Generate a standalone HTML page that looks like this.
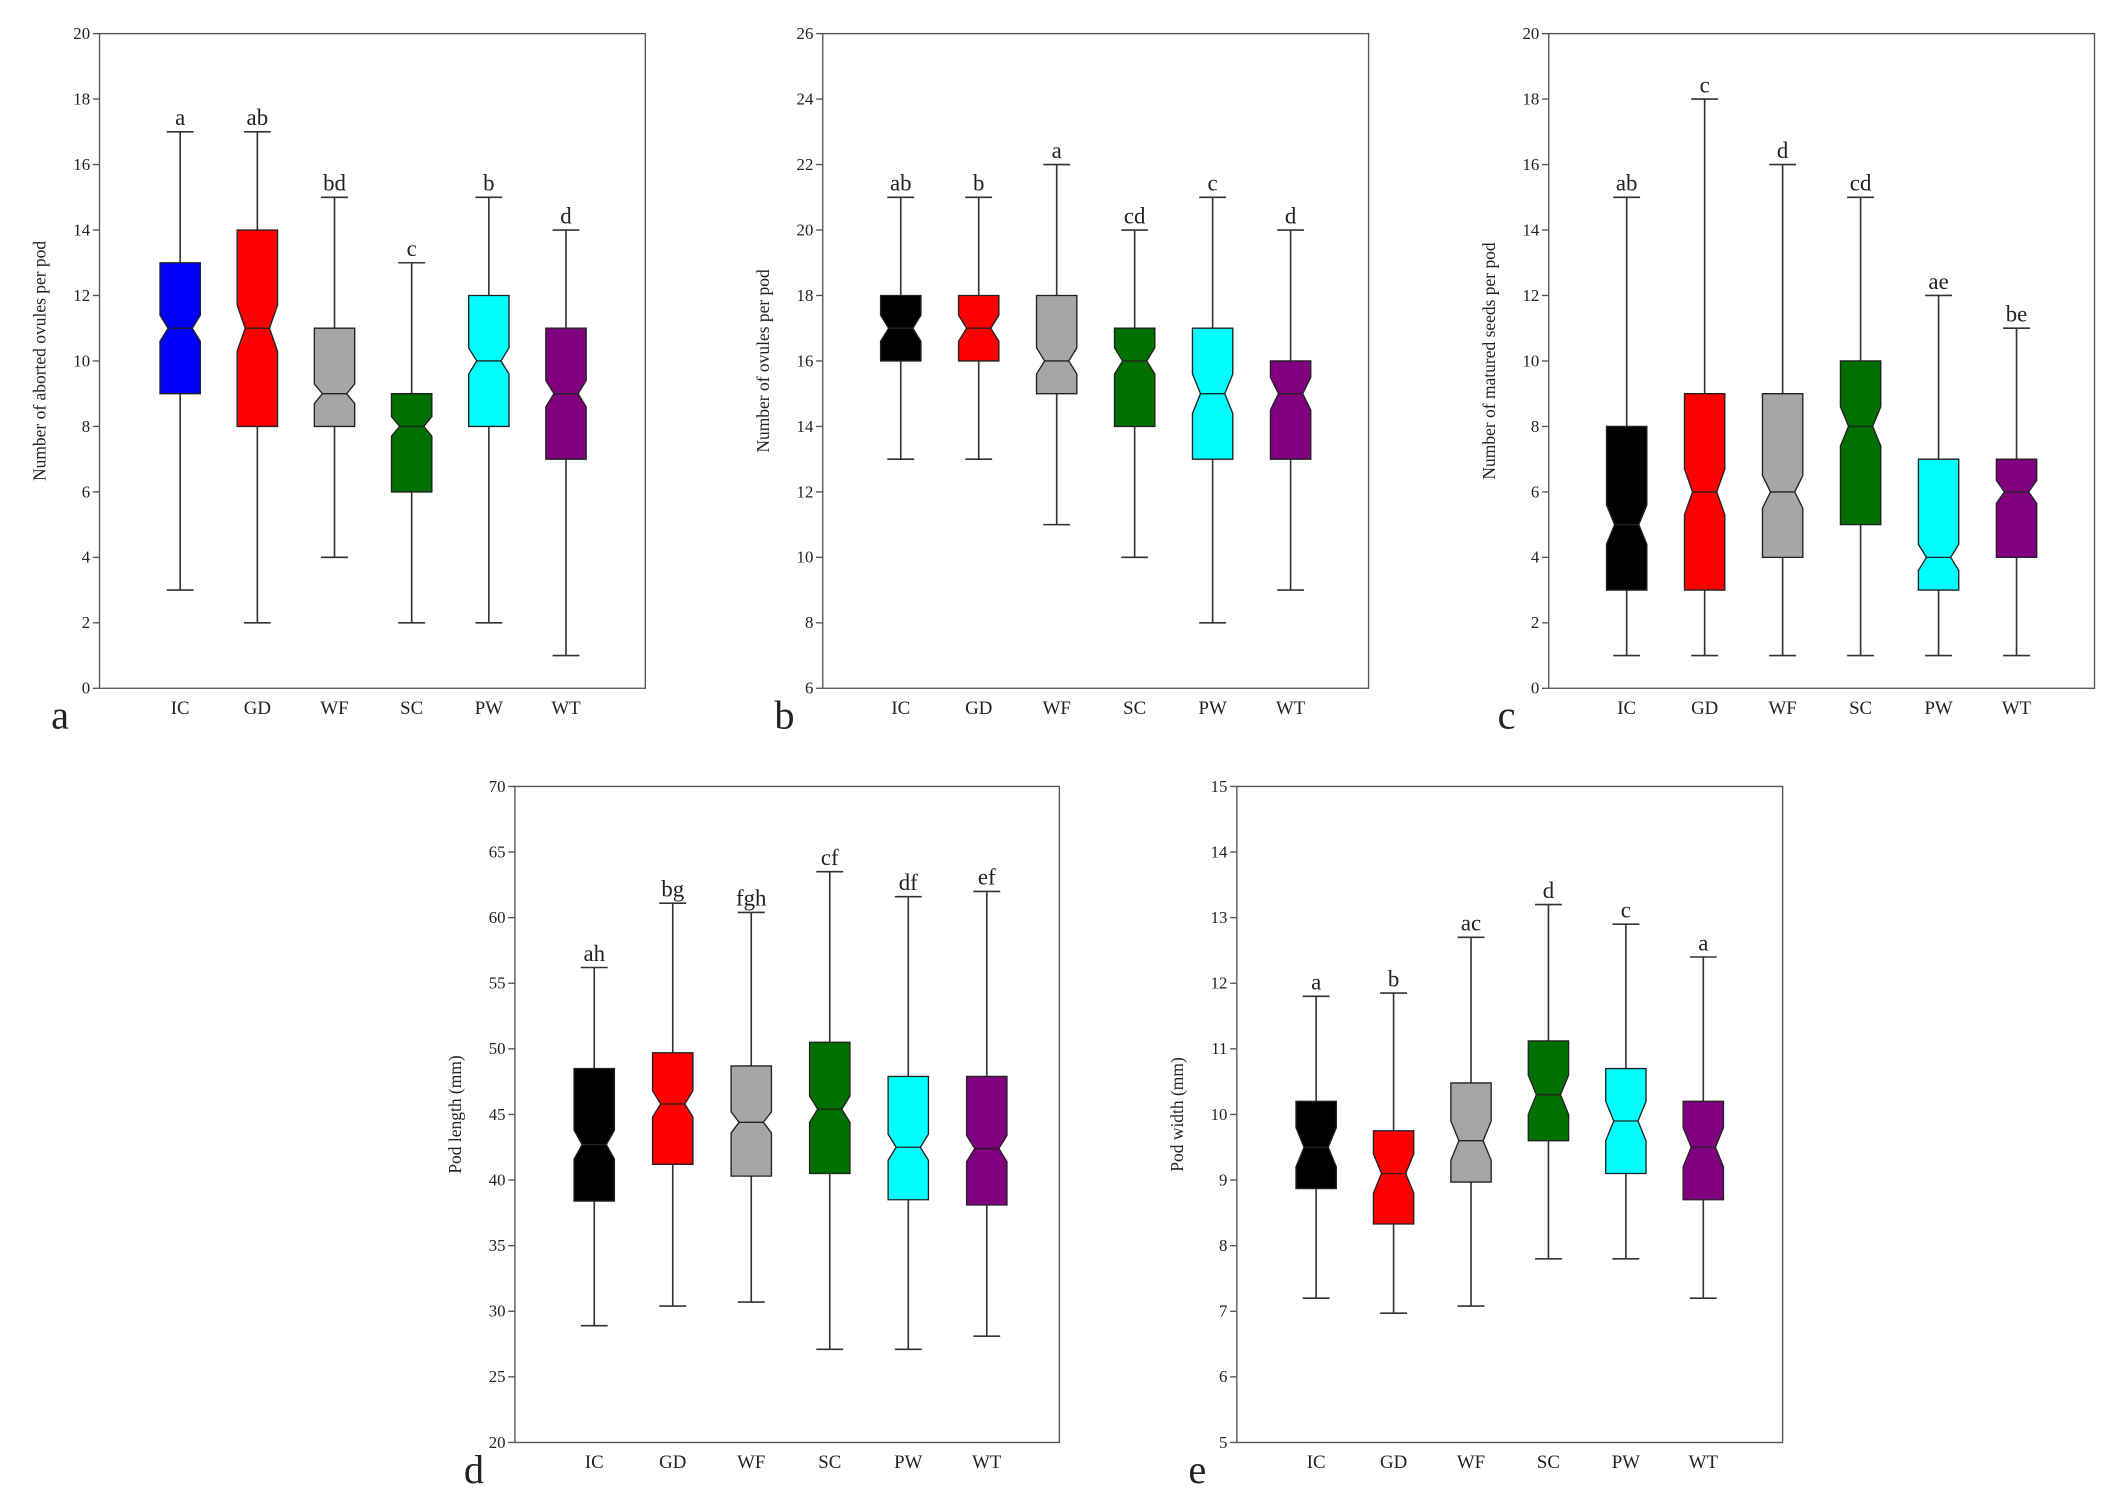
<!DOCTYPE html>
<html><head><meta charset="utf-8"><style>
html,body{margin:0;padding:0;background:#fff;}
svg{display:block;}
text{font-family:"Liberation Serif",serif;fill:#222;}
</style></head><body>
<svg id="fig" width="2108" height="1507" viewBox="0 0 1568 1121" xmlns="http://www.w3.org/2000/svg"></svg>
<script>
const categories = ["IC","GD","WF","SC","PW","WT"];
// Panel a
const aMin=[3,2,4,2,2,1], aQ1=[9,8,8,6,8,7], aMed=[11,11,9,8,10,9], aQ3=[13,14,11,9,12,11], aMax=[17,17,15,13,15,14];
const aNotch=[0.4,0.7,0.3,0.3,0.4,0.4], aLetters=["a","ab","bd","c","b","d"];
const aTicks=[0,2,4,6,8,10,12,14,16,18,20];
// Panel b
const bMin=[13,13,11,10,8,9], bQ1=[16,16,15,14,13,13], bMed=[17,17,16,16,15,15], bQ3=[18,18,18,17,17,16], bMax=[21,21,22,20,21,20];
const bNotch=[0.4,0.4,0.4,0.4,0.6,0.5], bLetters=["ab","b","a","cd","c","d"];
const bTicks=[6,8,10,12,14,16,18,20,22,24,26];
// Panel c
const cMin=[1,1,1,1,1,1], cQ1=[3,3,4,5,3,4], cMed=[5,6,6,8,4,6], cQ3=[8,9,9,10,7,7], cMax=[15,18,16,15,12,11];
const cNotch=[0.6,0.7,0.5,0.6,0.4,0.35], cLetters=["ab","c","d","cd","ae","be"];
const cTicks=[0,2,4,6,8,10,12,14,16,18,20];
// Panel d
const dMin=[28.9,30.4,30.7,27.1,27.1,28.1], dQ1=[38.4,41.2,40.3,40.5,38.5,38.1], dMed=[42.7,45.8,44.4,45.4,42.5,42.4], dQ3=[48.5,49.7,48.7,50.5,47.9,47.9], dMax=[56.2,61.1,60.4,63.5,61.6,62];
const dNotch=[1.1,1.0,0.8,1.0,1.0,1.0], dLetters=["ah","bg","fgh","cf","df","ef"];
const dTicks=[20,25,30,35,40,45,50,55,60,65,70];
// Panel e
const eMin=[7.2,6.97,7.08,7.8,7.8,7.2], eQ1=[8.87,8.33,8.97,9.6,9.1,8.7], eMed=[9.5,9.1,9.6,10.3,9.9,9.5], eQ3=[10.2,9.75,10.48,11.12,10.7,10.2], eMax=[11.8,11.85,12.7,13.2,12.9,12.4];
const eNotch=[0.3,0.3,0.3,0.3,0.3,0.3], eLetters=["a","b","ac","d","c","a"];
const eTicks=[5,6,7,8,9,10,11,12,13,14,15];

const NS="http://www.w3.org/2000/svg";
const svg=document.getElementById('fig');
function mk(tag,attrs,parent,txt){const e=document.createElementNS(NS,tag);for(const k in attrs)e.setAttribute(k,attrs[k]);if(txt!==undefined)e.textContent=txt;(parent||svg).appendChild(e);return e;}

function panel(cfg){
  const g=mk('g',{});
  
  
  const {L,R,T,B,ticks,colors,min,q1,med,q3,max,notch,letters,ylabel}=cfg;
  const y0=ticks[0], y1=ticks[ticks.length-1];
  const ys=v=>B-(v-y0)/(y1-y0)*(B-T);
  const step=(R-L)/6;
  const xs=i=>cfg.x0+i*cfg.dx;
  const frame=mk('rect',{x:L,y:T,width:R-L,height:B-T,fill:'none',stroke:'#555','stroke-width':1},g);
  
  
  ticks.forEach(t=>{
    const tl=mk('line',{x1:L-5,x2:L,y1:ys(t),y2:ys(t),stroke:'#555','stroke-width':1},g);
    
    
    const tt=mk('text',{x:L-7,y:ys(t)+4,'text-anchor':'end','font-size':12.5},g,String(t));
    
    
  });
  const yl=mk('text',{x:0,y:0,transform:`translate(${L-40},${(T+B)/2}) rotate(-90)`,'text-anchor':'middle','font-size':13},g,ylabel);
  
  
  const pl=mk('text',{x:cfg.px,y:B+30,'font-size':30,fill:'#000'},g,cfg.id);
  
  
  const w=15, nw=9, cap=10;
  categories.forEach((c,i)=>{
    const x=xs(i);
    const wl=mk('line',{x1:x,x2:x,y1:ys(max[i]),y2:ys(min[i]),stroke:'#333','stroke-width':1.2},g);
    
    
    [max[i],min[i]].forEach(v=>{
      const cp=mk('line',{x1:x-cap,x2:x+cap,y1:ys(v),y2:ys(v),stroke:'#333','stroke-width':1.2},g);
      
      
    });
    const nh=Math.min(med[i]+notch[i],q3[i]), nl=Math.max(med[i]-notch[i],q1[i]);
    const pts=[[x-w,ys(q3[i])],[x+w,ys(q3[i])],[x+w,ys(nh)],[x+nw,ys(med[i])],[x+w,ys(nl)],[x+w,ys(q1[i])],[x-w,ys(q1[i])],[x-w,ys(nl)],[x-nw,ys(med[i])],[x-w,ys(nh)]];
    const bx=mk('polygon',{points:pts.map(p=>p.join(',')).join(' '),fill:colors[i],stroke:'#222','stroke-width':1},g);
    
    
    const md=mk('line',{x1:x-nw,x2:x+nw,y1:ys(med[i]),y2:ys(med[i]),stroke:'#222','stroke-width':1},g);
    
    
    const lt=mk('text',{x:x,y:ys(max[i])-5,'text-anchor':'middle','font-size':17},g,letters[i]);
    
    
    const xl=mk('text',{x:x,y:B+19,'text-anchor':'middle','font-size':14},g,c);
    
    
  });
}
const colA=['#0000ff','#ff0000','#a6a6a6','#007000','#00ffff','#800080'];
const colB=['#000000','#ff0000','#a6a6a6','#007000','#00ffff','#800080'];
panel({id:'a',L:74,R:480,T:25,B:512,x0:134,dx:57.4,px:38,ticks:aTicks,colors:colA,min:aMin,q1:aQ1,med:aMed,q3:aQ3,max:aMax,notch:aNotch,letters:aLetters,ylabel:'Number of aborted ovules per pod'});
panel({id:'b',L:612,R:1018,T:25,B:512,x0:670,dx:58,px:576,ticks:bTicks,colors:colB,min:bMin,q1:bQ1,med:bMed,q3:bQ3,max:bMax,notch:bNotch,letters:bLetters,ylabel:'Number of ovules per pod'});
panel({id:'c',L:1152,R:1558,T:25,B:512,x0:1210,dx:58,px:1114,ticks:cTicks,colors:colB,min:cMin,q1:cQ1,med:cMed,q3:cQ3,max:cMax,notch:cNotch,letters:cLetters,ylabel:'Number of matured seeds per pod'});
panel({id:'d',L:383,R:788,T:585,B:1073,x0:442,dx:58.4,px:345,ticks:dTicks,colors:colB,min:dMin,q1:dQ1,med:dMed,q3:dQ3,max:dMax,notch:dNotch,letters:dLetters,ylabel:'Pod length (mm)'});
panel({id:'e',L:920,R:1326,T:585,B:1073,x0:979,dx:57.6,px:884,ticks:eTicks,colors:colB,min:eMin,q1:eQ1,med:eMed,q3:eQ3,max:eMax,notch:eNotch,letters:eLetters,ylabel:'Pod width (mm)'});
</script>
</body></html>
